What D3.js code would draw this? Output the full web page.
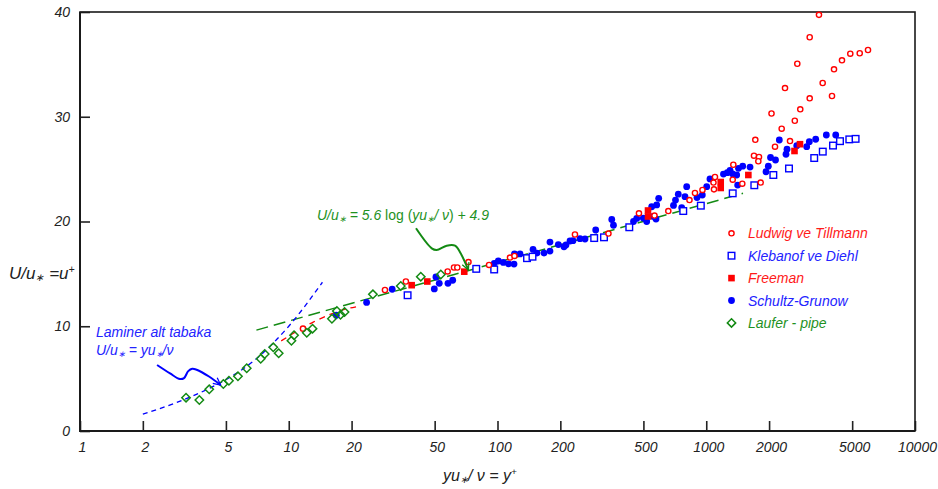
<!DOCTYPE html>
<html>
<head>
<meta charset="utf-8">
<script src="https://cdn.jsdelivr.net/npm/d3@7"></script>
<style>
  body { margin: 0; background: #fff; }
  text { font-family: 'Liberation Sans', Arial, sans-serif; white-space: pre; }
</style>
</head>
<body>
<svg id="chart" width="938" height="489"></svg>
<script>
// data: [y+, u+]
const ludwig = [[11.7,9.77],[28.9,13.46],[36.4,14.27],[57.7,15.23],[61.9,15.61],[64.2,15.61],[72.6,16.13],
  [91.1,15.85],[114.8,16.56],[120.6,16.71],[235,18.76],[340,18.85],[476,20.78],[565,20.57],[658,21.0],
  [831,22.05],[883,22.72],[959,23.01],[1089,23.07],[1083,23.72],[1101,24.25],[1348,25.42],[1339,23.99],
  [1488,23.61],[1823,23.72],[1693,26.28],[1789,26.16],[1776,25.75],[1718,27.8],[2135,27.14],[2298,28.86],
  [2519,27.68],[2054,30.31],[2656,29.62],[2821,30.71],[2384,32.74],[2730,35.06],[3130,37.59],[3467,39.73],
  [3130,31.76],[3612,33.22],[4003,31.98],[4093,34.53],[4469,35.39],[4898,36.02],[5435,36.06],[5955,36.37]];

const klebanof = [[37.1,12.96],[79.1,15.48],[96.4,15.42],[138.5,16.5],[147.1,16.64],[290.5,18.42],[323.7,18.49],
  [427.9,19.45],[776,21.0],[942,21.51],[1339,22.69],[1699,23.46],[2096,24.44],[2491,25.06],[3290,26.06],
  [3616,26.67],[4048,27.25],[4372,27.67],[4845,27.84],[5194,27.89]];

const freeman = [[38.8,13.92],[46.1,14.27],[69.3,15.21],[526,21.05],[526,20.48],[1173,23.77],[1173,23.2],
  [1591,24.44],[2647,26.73],[2812,27.38]];

const schultz = [[16.9,11.05],[23.6,12.27],[31.3,13.53],[49.8,13.56],[50.7,14.7],[52.6,14.1],[57.9,14.1],[61.0,14.39],
  [96.5,16.01],[100.9,16.23],[106.6,16.09],[112.9,15.96],[120,15.94],[120.6,16.9],[128.2,16.9],[148,17.33],
  [154.6,16.99],[167.1,16.99],[178.4,17.18],[178.4,18.04],[195.6,17.8],[208.2,17.59],[212.8,17.76],[222.5,18.14],
  [229.9,18.17],[248.4,18.36],[262.6,18.33],[295.4,19.19],[352.7,20.19],[359.4,19.64],[448.3,20.0],[464.4,20.29],
  [499.3,20.33],[518.4,20.0],[547.9,21.41],[578.9,21.58],[591.8,22.21],[557.7,20.48],[574.5,20.24],[696.7,21.53],
  [712.3,22.05],[734.6,22.61],[762.7,21.32],[791,22.37],[806,23.32],[903,22.29],[957.4,22.53],[1005,23.32],
  [1042,24.06],[1209,24.53],[1261,24.66],[1300,24.89],[1336,24.55],[1399,24.44],[1427,25.08],[1495,25.28],
  [1414,23.48],[1621,25.2],[1933,24.75],[1983,25.28],[2032,26.11],[2147,25.87],[2239,27.78],[2410,26.42],
  [2437,26.9],[2713,27.23],[3028,27.14],[3117,27.62],[3344,27.85],[3760,28.26],[4171,28.26]];

const laufer = [[3.22,3.18],[3.73,2.96],[4.16,3.98],[4.86,4.49],[5.17,4.8],[5.71,5.22],[6.29,5.99],[7.34,6.9],
  [7.67,7.35],[8.43,7.99],[8.95,7.42],[10.3,8.62],[10.6,9.14],[12.2,9.38],[13.0,9.77],[16.1,10.72],[17.0,11.46],
  [17.7,11.1],[18.5,11.36],[25.3,13.05],[34.4,13.84],[42.9,14.73],[53.5,14.94]];

// reference curves
const laminarCurve = [[2,1.6],[2.8,2.6],[4,3.9],[5,4.9],[7,6.9],[10,10],[14.5,14.2]];
const logLawCurve = [[7,9.63],[1500,22.69]];
const bufferCurve = [[9.2,8.6],[13.1,10.4],[19.3,11.7],[21,11.85]];

// annotation arrows (data coords)
const logLawArrow = [[40.7,19.35],[48.4,17.44],[51.1,17.28],[57.1,17.69],[62.6,17.69],[66.6,16.96],[72.5,15.37]];
const laminarArrow = [[2.34,6.3],[2.7,5.5],[3.01,4.96],[3.15,5.05],[3.3,5.72],[3.45,5.95],[3.62,5.85],[4.15,5.2],[4.72,4.39]];

const xTicks = [1,2,5,10,20,50,100,200,500,1000,2000,5000,10000];
const yTicks = [0,10,20,30,40];

const seriesNames = ['Ludwig ve Tillmann','Klebanof ve Diehl','Freeman','Schultz-Grunow','Laufer - pipe'];

const RED = '#ff0000', BLUE = '#0000ff', GREEN = '#138a13';
const RED_T = '#ff1a1a', BLUE_T = '#2323ff', GREEN_T = '#1f921f';

const svg = d3.select('#chart');
const x = d3.scaleLog().domain([1, 10000]).range([80, 915]);
const y = d3.scaleLinear().domain([0, 40]).range([431, 12]);

// rich text with italic / upright / sub / sup parts
function richText(g, px, py, parts, size, color) {
  const t = g.append('text').attr('x', px).attr('y', py).attr('font-size', size).attr('fill', color);
  let off = 0;
  parts.forEach(p => {
    const target = p.sub ? size * 0.12 : p.sup ? -size * 0.38 : 0;
    const ts = t.append('tspan').text(p.t).attr('dy', target - off)
      .attr('font-style', p.up ? 'normal' : 'italic');
    off = target;
    if (p.sub) ts.attr('font-size', size * 0.62);
    if (p.sup) ts.attr('font-size', size * 0.62);
  });
  return t;
}
const STAR = '\u2217';

// axes
const xAxis = d3.axisBottom(x).tickValues(xTicks).tickFormat(d3.format('d'))
  .tickSize(-10).tickSizeOuter(0).tickPadding(11);
const gx = svg.append('g').attr('transform', 'translate(0,431)').call(xAxis);
const yAxis = d3.axisLeft(y).tickValues(yTicks).tickSize(-10).tickSizeOuter(0).tickPadding(10);
const gy = svg.append('g').attr('transform', 'translate(80,0)').call(yAxis);
[gx, gy].forEach(g => {
  g.select('.domain').remove();
  g.selectAll('.tick line').attr('stroke', '#222').attr('stroke-width', 1.6);
  g.selectAll('.tick text').attr('font-size', 14).attr('font-style', 'italic')
    .attr('fill', '#222').attr('font-family', "'Liberation Sans', Arial, sans-serif");
});
gx.selectAll('.tick text').attr('dx', 2);

// frame
svg.append('rect').attr('x', 80).attr('y', 12).attr('width', 835).attr('height', 419)
  .attr('fill', 'none').attr('stroke', '#1a1a1a').attr('stroke-width', 1.6);
svg.append('path').attr('d', 'M80,12V431H915').attr('fill', 'none')
  .attr('stroke', '#1a1a1a').attr('stroke-width', 2);

// reference curves
const line = d3.line().x(d => x(d[0])).y(d => y(d[1])).curve(d3.curveMonotoneX);
svg.append('path').attr('d', line(logLawCurve)).attr('fill', 'none')
  .attr('stroke', GREEN).attr('stroke-width', 1.5).attr('stroke-dasharray', '12,6');
svg.append('path').attr('d', line(bufferCurve)).attr('fill', 'none')
  .attr('stroke', RED).attr('stroke-width', 1.3).attr('stroke-dasharray', '6,5');
svg.append('path').attr('d', line(laminarCurve)).attr('fill', 'none')
  .attr('stroke', BLUE).attr('stroke-width', 1.3).attr('stroke-dasharray', '5,4');

// markers
const sym = {
  ludwig: s => s.append('circle').attr('r', 2.6).attr('fill', '#fff').attr('stroke', RED).attr('stroke-width', 1.4),
  klebanof: s => s.append('rect').attr('x', -3.3).attr('y', -3.3).attr('width', 6.6).attr('height', 6.6)
    .attr('fill', '#fff').attr('stroke', BLUE).attr('stroke-width', 1.4),
  freeman: s => s.append('rect').attr('x', -3.3).attr('y', -3.3).attr('width', 6.6).attr('height', 6.6).attr('fill', RED),
  schultz: s => s.append('circle').attr('r', 3.4).attr('fill', BLUE),
  laufer: s => s.append('path').attr('d', 'M0,-4.2L4.2,0L0,4.2L-4.2,0Z')
    .attr('fill', 'none').attr('stroke', GREEN).attr('stroke-width', 1.5)
};

function plot(data, key) {
  const g = svg.append('g').selectAll('g').data(data).join('g')
    .attr('transform', d => `translate(${x(d[0])},${y(d[1])})`);
  sym[key](g);
}
plot(schultz, 'schultz');
plot(klebanof, 'klebanof');
plot(ludwig, 'ludwig');
plot(freeman, 'freeman');
plot(laufer, 'laufer');

// legend
const legendKeys = ['ludwig', 'klebanof', 'freeman', 'schultz', 'laufer'];
const legendColors = [RED_T, BLUE_T, RED_T, BLUE_T, GREEN_T];
const lg = svg.append('g');
legendKeys.forEach((k, i) => {
  const row = lg.append('g').attr('transform', `translate(731.5,${233.3 + i * 22.4})`);
  sym[k](row);
  row.append('text').attr('x', 16.5).attr('y', 5).attr('font-size', 14).attr('font-style', 'italic')
    .attr('fill', legendColors[i]).text(seriesNames[i]);
});

// annotations
const defs = svg.append('defs');
function arrowMarker(id, color) {
  defs.append('marker').attr('id', id).attr('viewBox', '0 0 10 10').attr('refX', 9).attr('refY', 5)
    .attr('markerWidth', 9).attr('markerHeight', 9).attr('markerUnits', 'userSpaceOnUse').attr('orient', 'auto')
    .append('path').attr('d', 'M1,1L9,5L1,9').attr('fill', 'none').attr('stroke', color).attr('stroke-width', 1.4);
}
arrowMarker('arG', GREEN);
arrowMarker('arB', BLUE);
const smooth = d3.line().x(d => x(d[0])).y(d => y(d[1])).curve(d3.curveCatmullRom);
svg.append('path').attr('d', smooth(logLawArrow)).attr('fill', 'none').attr('stroke', GREEN)
  .attr('stroke-width', 2).attr('marker-end', 'url(#arG)');
svg.append('path').attr('d', smooth(laminarArrow)).attr('fill', 'none').attr('stroke', BLUE)
  .attr('stroke-width', 2).attr('marker-end', 'url(#arB)');

richText(svg, 317, 220, [{t: 'U/u'}, {t: STAR, sub: true}, {t: ' = 5.6 '}, {t: 'log (', up: true},
  {t: 'yu'}, {t: STAR, sub: true}, {t: '/ ν'}, {t: ')', up: true}, {t: ' + 4.9'}], 14, GREEN_T);
richText(svg, 96, 337, [{t: 'Laminer alt tabaka'}], 14, BLUE_T);
richText(svg, 96, 355, [{t: 'U/u'}, {t: STAR, sub: true}, {t: ' = yu'}, {t: STAR, sub: true}, {t: '/ν'}], 14, BLUE_T);

// axis titles
richText(svg, 9, 279, [{t: 'U/u'}, {t: STAR, sub: true}, {t: ' =u'}, {t: '+', sup: true}], 17, '#222');
richText(svg, 443, 481, [{t: 'yu'}, {t: STAR, sub: true}, {t: '/ ν = y'}, {t: '+', sup: true}], 16, '#222');
</script>
</body>
</html>
